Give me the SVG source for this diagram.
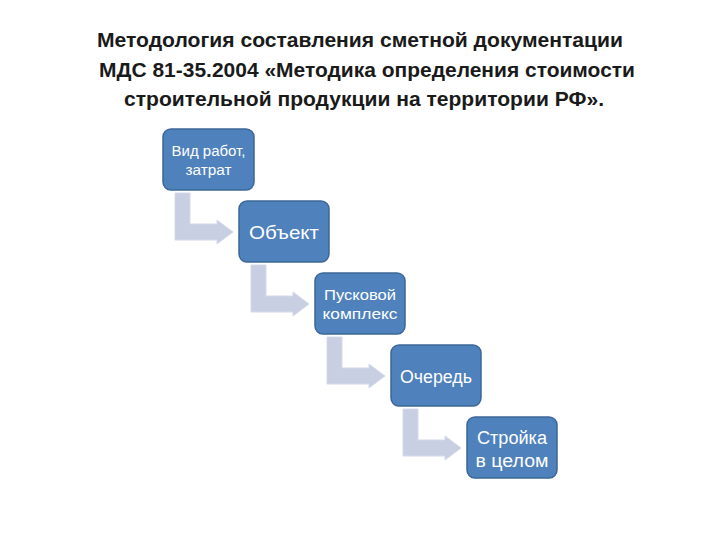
<svg xmlns="http://www.w3.org/2000/svg" width="720" height="540" viewBox="0 0 720 540">
<style>
.title{font-family:"Liberation Sans","Noto Sans",sans-serif;font-weight:bold;font-size:20px;fill:#1a1a1a;text-anchor:middle}
.box{fill:#4f81bd;stroke:#3d6796;stroke-width:1.5}
.lbl{font-family:"Liberation Sans","Noto Sans",sans-serif;fill:#ffffff;text-anchor:middle}
.arr{fill:#c8cfe2;stroke:#d4dae9;stroke-width:1}
</style>
<rect width="720" height="540" fill="#ffffff"/>
<g id="title">
<text class="title" x="360" y="47" textLength="526" lengthAdjust="spacingAndGlyphs">Методология составления сметной документации</text>
<text class="title" x="367" y="77" textLength="536" lengthAdjust="spacingAndGlyphs">МДС 81-35.2004 «Методика определения стоимости</text>
<text class="title" x="364" y="106" textLength="480" lengthAdjust="spacingAndGlyphs">строительной продукции на территории РФ».</text>
</g>
<g id="connectors">
<polygon class="arr" points="175,193 190,193 190,224 217,224 217,220 233,232 217,244 217,240 175,240"/>
<polygon class="arr" points="251,265 266,265 266,296 293,296 293,292 309,304 293,316 293,312 251,312"/>
<polygon class="arr" points="327,337 342,337 342,368 369,368 369,364 385,376 369,388 369,384 327,384"/>
<polygon class="arr" points="403,409 418,409 418,440 445,440 445,436 461,448 445,460 445,456 403,456"/>
</g>
<g id="node1">
<rect class="box" x="163" y="129" width="91" height="61" rx="8"/>
<text class="lbl" x="208.5" y="156" font-size="14" textLength="74" lengthAdjust="spacingAndGlyphs">Вид работ,</text>
<text class="lbl" x="208.5" y="175" font-size="14" textLength="46" lengthAdjust="spacingAndGlyphs">затрат</text>
</g>
<g id="node2">
<rect class="box" x="239" y="201" width="90" height="61" rx="8"/>
<text class="lbl" x="284" y="239" font-size="19" textLength="70" lengthAdjust="spacingAndGlyphs">Объект</text>
</g>
<g id="node3">
<rect class="box" x="315" y="273" width="90" height="61" rx="8"/>
<text class="lbl" x="360" y="300" font-size="15" textLength="72" lengthAdjust="spacingAndGlyphs">Пусковой</text>
<text class="lbl" x="360" y="319" font-size="15" textLength="75" lengthAdjust="spacingAndGlyphs">комплекс</text>
</g>
<g id="node4">
<rect class="box" x="391" y="345" width="90" height="61" rx="8"/>
<text class="lbl" x="436" y="383" font-size="18" textLength="72" lengthAdjust="spacingAndGlyphs">Очередь</text>
</g>
<g id="node5">
<rect class="box" x="467" y="417" width="90" height="61" rx="8"/>
<text class="lbl" x="512" y="444" font-size="18" textLength="70" lengthAdjust="spacingAndGlyphs">Стройка</text>
<text class="lbl" x="512" y="467" font-size="18" textLength="73" lengthAdjust="spacingAndGlyphs">в целом</text>
</g>
</svg>
